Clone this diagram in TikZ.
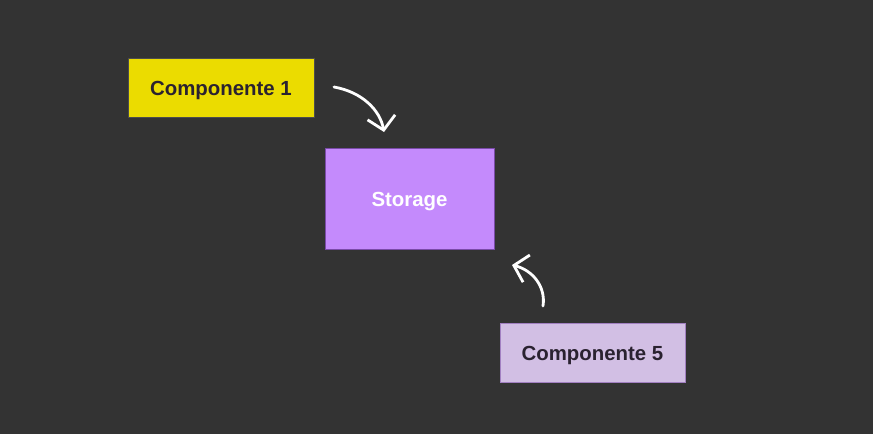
\documentclass[tikz,border=0pt]{standalone}
\usepackage{fontspec}
\setmainfont{Liberation Sans}
\usetikzlibrary{arrows.meta}
\definecolor{bg}{HTML}{333333}
\definecolor{yel}{HTML}{EBDC00}
\definecolor{stor}{HTML}{C48AFC}
\definecolor{stord}{HTML}{7A4AA8}
\definecolor{lil}{HTML}{D2BFE4}
\definecolor{txt}{HTML}{2A2230}
\tikzset{
  box/.style={draw=#1, line width=0.8pt, inner sep=0pt, text height=20pt, text depth=4pt,
    font=\fontsize{20.4}{22}\selectfont\bfseries},
  hand/.style={draw=white, line width=2.8pt, line cap=round, line join=round,
    -{Straight Barb[length=13pt,width=28pt,line width=2.8pt]}}
}
\begin{document}
\begin{tikzpicture}[x=1pt,y=-1pt]
\fill[bg] (0,0) rectangle (873,434);
\useasboundingbox (0,0) rectangle (873,434);
\node[box=black!70, fill=yel, text=txt, minimum width=186pt, minimum height=59pt] (c1) at (221,87.5) {Componente 1};
\node[box=stord, fill=stor, text=white, minimum width=169pt, minimum height=101pt] (st) at (409.5,198.5) {Storage};
\node[box=stord!70, fill=lil, text=txt, minimum width=185pt, minimum height=59pt] (c5) at (592.5,352.5) {Componente 5};
\coordinate (a1s) at (334,87);
\coordinate (a1e) at (384,132);
\coordinate (a2s) at (543,306);
\coordinate (a2e) at (512,265);
\draw[hand] (a1s) .. controls (362,92) and (380,110) .. (a1e);
\draw[hand] (a2s) .. controls (546,286) and (532,270) .. (a2e);
\end{tikzpicture}
\end{document}
